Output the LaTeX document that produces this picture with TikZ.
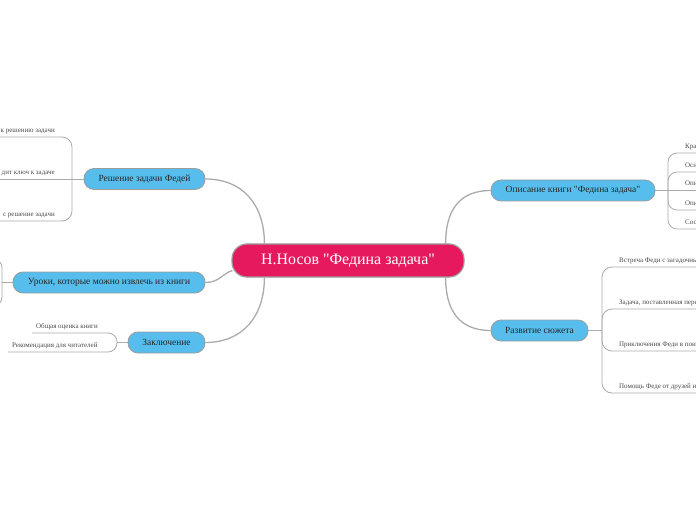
\documentclass[tikz,border=0pt]{standalone}
\usepackage{fontspec}
\setmainfont{Liberation Serif}
\newfontfamily\rawserif{Liberation Serif}[Ligatures=ResetAll]
\newcommand{\sq}{{\rawserif\symbol{"22}}}
\usetikzlibrary{calc}
\definecolor{mag}{HTML}{E6185E}
\definecolor{sky}{HTML}{56BDEC}
\definecolor{edgec}{HTML}{ABABAB}
\definecolor{bord}{HTML}{9C9C9C}
\definecolor{leaftxt}{HTML}{4A4A4A}
\begin{document}
\begin{tikzpicture}[x=1bp,y=-1bp,
 centerbox/.style={draw=bord, line width=1.2bp, fill=mag, text=white, rounded corners=15bp, minimum width=232bp, minimum height=33bp, inner sep=0pt, font=\fontsize{16}{18}\selectfont},
 branch/.style={draw=bord, line width=0.8bp, fill=sky, text=black!85, rounded corners=10bp, minimum height=21bp, inner sep=0pt, font=\fontsize{9.5}{11}\selectfont},
 leaf/.style={text=leaftxt, inner sep=0pt, font=\fontsize{7}{8}\selectfont},
 conn/.style={draw=edgec, line width=1.3bp},
 sub/.style={draw=edgec, line width=0.8bp},
]
\useasboundingbox (0,0) rectangle (696,520);
\clip (0,0) rectangle (696,520);

\node[centerbox] (c) at (348,260.5) {Н.Носов \sq Федина задача\sq};
\node[branch, minimum width=121bp] (b1) at (144.5,179) {Решение задачи Федей};
\node[branch, minimum width=192bp] (b2) at (109,282.5) {Уроки, которые можно извлечь из книги};
\node[branch, minimum width=77bp] (b3) at (166.5,342.5) {Заключение};
\node[branch, minimum width=164bp] (b4) at (573,190.5) {Описание книги \sq Федина задача\sq};
\node[branch, minimum width=97bp] (b5) at (539.5,330.5) {Развитие сюжета};

\draw[conn] (b1.east) .. controls +(38,0) and +(0,-38) .. ($(c.north west)+(33,0)$);
\draw[conn] (b2.east) .. controls +(14,0) and +(-10,3) .. ($(c.west)+(1,10)$);
\draw[conn] (b3.east) .. controls +(38,0) and +(0,38) .. ($(c.south west)+(33,0)$);
\draw[conn] (b4.west) .. controls +(-32,0) and +(0,-32) .. ($(c.north east)+(-19,0)$);
\draw[conn] (b5.west) .. controls +(-32,0) and +(0,32) .. ($(c.south east)+(-19,0)$);

% Решение задачи Федей
\coordinate (j1) at (72,179);
\draw[sub] (b1.west) -- (0,179);
\draw[sub, rounded corners=10bp] (j1) |- (0,137);
\draw[sub, rounded corners=10bp] (j1) |- (0,221);
\node[leaf, anchor=base east] (l11) at (55,132.5) {к решению задачи};
\node[leaf, anchor=base east] (l12) at (55,174.5) {дит ключ к задаче};
\node[leaf, anchor=base east] (l13) at (55,216.5) {с решение задачи};

% Уроки
\coordinate (j2) at (2,282.5);
\draw[sub] (b2.west) -- (j2);
\draw[sub, rounded corners=10bp] (j2) |- (-20,258);
\draw[sub, rounded corners=10bp] (j2) |- (-20,307);

% Заключение
\coordinate (j3) at (117,342.5);
\draw[sub] (b3.west) -- (j3);
\draw[sub, rounded corners=9bp] (j3) |- (32,333);
\draw[sub, rounded corners=9bp] (j3) |- (8,352);
\node[leaf, anchor=base west] (l31) at (36,328.5) {Общая оценка книги};
\node[leaf, anchor=base west] (l32) at (12,347.5) {Рекомендация для читателей};

% Описание книги
\coordinate (j4) at (668,190.5);
\draw[sub] (b4.east) -- (696,190.5);
\foreach \yy in {153,172,210,229}{
  \draw[sub, rounded corners=9bp] (j4) |- (696,\yy);
}
\node[leaf, anchor=base west] (l41) at (685,148.5) {Кра};
\node[leaf, anchor=base west] (l42) at (685,167.5) {Осн};
\node[leaf, anchor=base west] (l43) at (685,186) {Опи};
\node[leaf, anchor=base west] (l44) at (685,205.5) {Опи};
\node[leaf, anchor=base west] (l45) at (685,224.5) {Сос};

% Развитие сюжета
\coordinate (j5) at (602,330.5);
\draw[sub] (b5.east) -- (j5);
\foreach \yy in {267,309,351,393}{
  \draw[sub, rounded corners=10bp] (j5) |- (696,\yy);
}
\node[leaf, anchor=base west] (l51) at (619,262.5) {Встреча Феди с загадочны};
\node[leaf, anchor=base west] (l52) at (619,304.5) {Задача, поставленная пере};
\node[leaf, anchor=base west] (l53) at (619,346.5) {Приключения Феди в пои};
\node[leaf, anchor=base west] (l54) at (619,388.5) {Помощь Феде от друзей и};
\end{tikzpicture}
\end{document}
